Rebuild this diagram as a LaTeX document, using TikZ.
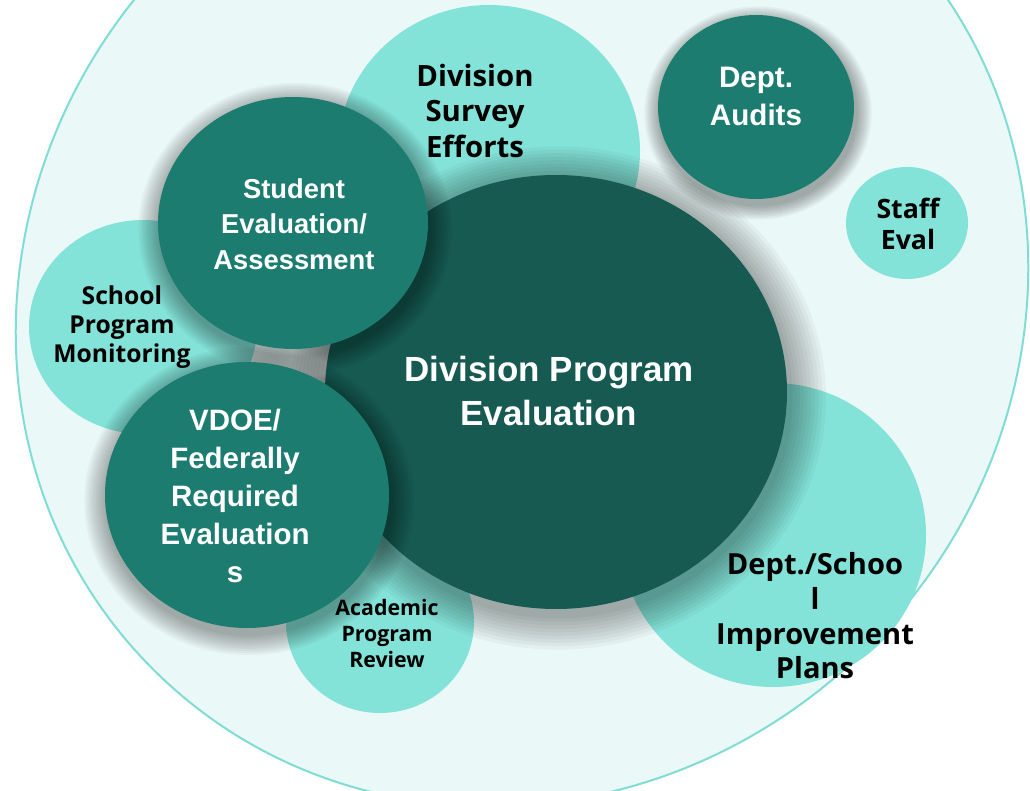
\documentclass[tikz,border=0pt]{standalone}
\usepackage{fontspec}
\newfontfamily\lightfont{Open Sans}
\newfontfamily\darkfont{Liberation Sans}
\definecolor{paleteal}{HTML}{EAF8F7}
\definecolor{rimteal}{HTML}{7FDDD3}
\definecolor{lightteal}{HTML}{84E3D8}
\definecolor{midteal}{HTML}{1D7C70}
\definecolor{darkteal}{HTML}{165A52}
\tikzset{
  outer/.style={fill=paleteal,draw=rimteal,line width=1.5pt},
  lightbub/.style={fill=lightteal},
  midbub/.style={fill=midteal},
  darkbub/.style={fill=darkteal},
  blacklabel/.style={text=black,align=center,inner sep=0pt},
  whitelabel/.style={text=white,align=center,inner sep=0pt}
}
% soft shadow under a bubble: x, y, x radius, y radius
\newcommand{\bubshade}[4]{%
  \foreach \k in {1,...,10}
    \fill[black,opacity=0.035] (#1+2,#2+6) ellipse [x radius={#3*(1+0.016*\k)}, y radius={#4*(1+0.016*\k)}];}
\newcommand{\fsz}[2]{\fontsize{#1}{#2}\selectfont\bfseries}

\begin{document}
\begin{tikzpicture}[x=0.75pt,y=-0.75pt]
\useasboundingbox (0,0) rectangle (1030,791);
\clip (0,0) rectangle (1030,791);
\fill[white] (0,0) rectangle (1030,791);
\draw[outer,rotate around={45:(522,300)}] (522,300) ellipse [x radius=522, y radius=490];

% light bubbles
\fill[lightbub] (489,151) ellipse [x radius=151, y radius=146];
\fill[lightbub] (143,327) ellipse [x radius=114, y radius=107];
\fill[lightbub] (380,622) ellipse [x radius=94, y radius=91];
\fill[lightbub] (773,535) ellipse [x radius=153, y radius=152];
\fill[lightbub] (907,223) ellipse [x radius=61, y radius=56];

% dark bubbles
\bubshade{556}{392}{231}{217}
\fill[darkbub] (556,392) ellipse [x radius=231, y radius=217];
\bubshade{756}{107}{98}{92}
\fill[midbub] (756,107) ellipse [x radius=98, y radius=92];
\bubshade{293}{223}{135}{126}
\fill[midbub] (293,223) ellipse [x radius=135, y radius=126];
\bubshade{247}{495}{142}{133}
\fill[midbub] (247,495) ellipse [x radius=142, y radius=133];

% labels
\node[whitelabel,font=\darkfont\fsz{26.2}{33}] (progeval) at (549,391) {Division Program\\Evaluation};
\node[whitelabel,font=\darkfont\fsz{20.5}{26.6}] (studeval) at (294,224) {Student\\Evaluation/\\Assessment};
\node[whitelabel,font=\darkfont\fsz{22.2}{28.5}] (audits) at (756,96) {Dept.\\Audits};
\node[whitelabel,font=\darkfont\fsz{22.1}{28.5}] (vdoe) at (235,496) {VDOE/\\Federally\\Required\\Evaluation\\s};
\node[blacklabel,font=\lightfont\fsz{22}{26.6}] (survey) at (475,111) {Division\\Survey\\Efforts};
\node[blacklabel,font=\lightfont\fsz{18.5}{21.75}] (monitor) at (122,327) {School\\Program\\Monitoring};
\node[blacklabel,font=\lightfont\fsz{20}{23.25}] (staff) at (908,224) {Staff\\Eval};
\node[blacklabel,font=\lightfont\fsz{16}{19.5}] (review) at (387,633) {Academic\\Program\\Review};
\node[blacklabel,font=\lightfont\fsz{21.8}{26}] (plans) at (815,616) {Dept./Schoo\\l\\Improvement\\Plans};
\end{tikzpicture}
\end{document}
